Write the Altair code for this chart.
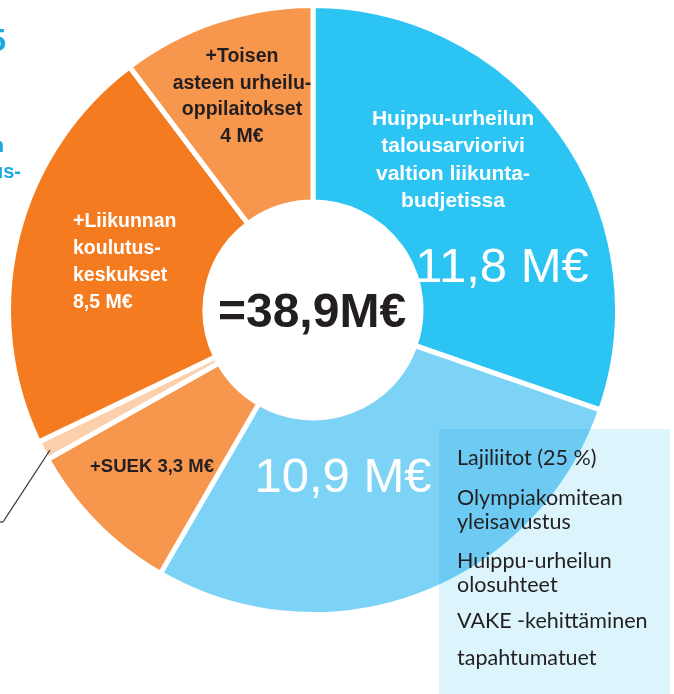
import altair as alt
import pandas as pd

# ---- data ----
categories = [
    "Huippu-urheilun talousarviorivi",
    "Lajiliitot ym.",
    "SUEK",
    "Muu",
    "Liikunnan koulutuskeskukset",
    "Toisen asteen urheilu-oppilaitokset",
]
values = [11.8, 10.9, 3.3, 0.4, 8.5, 4.0]
order = [0, 1, 2, 3, 4, 5]

total_label = ["=38,9M€"]
huippu_label = ["Huippu-urheilun", "talousarviorivi", "valtion liikunta-", "budjetissa"]
huippu_value = ["11,8 M€"]
lajit_value = ["10,9 M€"]
toisen_label = ["+Toisen", "asteen urheilu-", "oppilaitokset", "4 M€"]
liikunta_label = ["+Liikunnan", "koulutus-", "keskukset", "8,5 M€"]
suek_label = ["+SUEK 3,3 M€"]
box_groups = [
    ["Lajiliitot (25 %)"],
    ["Olympiakomitean", "yleisavustus"],
    ["Huippu-urheilun", "olosuhteet"],
    ["VAKE -kehittäminen"],
    ["tapahtumatuet"],
]
left_fragments = ["5", "n", "us-"]

# ---- styles ----
colors = ["#2cc4f3", "#7dd3f6", "#f7964d", "#fdd0ad", "#f47b20", "#f7964d"]
COND = "Liberation Sans, Arial, sans-serif"
REG = "Lato, Open Sans, sans-serif"
DARK = "#231f20"
BLUE_TXT = "#1ba8e0"

df = pd.DataFrame({"category": categories, "value": values, "idx": order})

CX, CY = 313, 310

pie = alt.Chart(df).mark_arc(
    radius=304.5, radius2=108, stroke="white", strokeWidth=5
).encode(
    theta=alt.Theta("value:Q", stack=True),
    color=alt.Color("category:N", scale=alt.Scale(domain=categories, range=colors), legend=None),
    order=alt.Order("idx:Q", sort="ascending"),
    x=alt.value(CX),
    y=alt.value(CY),
)

one = alt.Data(values=[{"k": 1}])


def txt(lines, x, y, size, color, weight="bold", align="center", font=COND, lh=None):
    kw = dict(text=lines, align=align, baseline="alphabetic", fontSize=size,
              font=font, fontWeight=weight, color=color)
    if lh is not None:
        kw["lineHeight"] = lh
    return alt.Chart(one).mark_text(**kw).encode(x=alt.value(x), y=alt.value(y))


box = alt.Chart(one).mark_rect(color="#dcf4fc", blend="multiply").encode(
    x=alt.value(439), x2=alt.value(670), y=alt.value(429), y2=alt.value(700)
)

leader1 = alt.Chart(one).mark_rule(color="#333333", strokeWidth=1.2).encode(
    x=alt.value(50), y=alt.value(450), x2=alt.value(3), y2=alt.value(522)
)
leader2 = alt.Chart(one).mark_rule(color="#333333", strokeWidth=1.2).encode(
    x=alt.value(3), y=alt.value(522), x2=alt.value(-5), y2=alt.value(522)
)

layers = [
    pie,
    box,
    leader1,
    leader2,
    txt(total_label, 312, 327, 48, DARK),
    txt(huippu_label, 453, 125, 21, "white", lh=27.3),
    txt(huippu_value, 502, 282, 49, "white", weight="normal"),
    txt(lajit_value, 343, 492, 49, "white", weight="normal"),
    txt(toisen_label, 242, 62, 19.5, DARK, lh=26.5),
    txt(liikunta_label, 73, 227, 19.5, "white", align="left", lh=27),
    txt(suek_label, 152, 472, 18.5, DARK),
    txt([left_fragments[0]], 6, 51, 32, BLUE_TXT, align="right"),
    txt([left_fragments[1]], 4, 152, 20, BLUE_TXT, align="right"),
    txt([left_fragments[2]], 21, 178, 20, BLUE_TXT, align="right"),
]

box_y = [465, 505, 568, 628, 665]
for lines, by in zip(box_groups, box_y):
    layers.append(txt(lines, 457, by, 21.5, DARK, weight="normal", align="left", font=REG, lh=23.5))

chart = alt.layer(*layers).properties(
    width=674, height=694, padding=0, autosize="none", background="white"
).configure_view(stroke=None)

chart.save("out.html", embed_options={"renderer": "svg", "actions": False})
